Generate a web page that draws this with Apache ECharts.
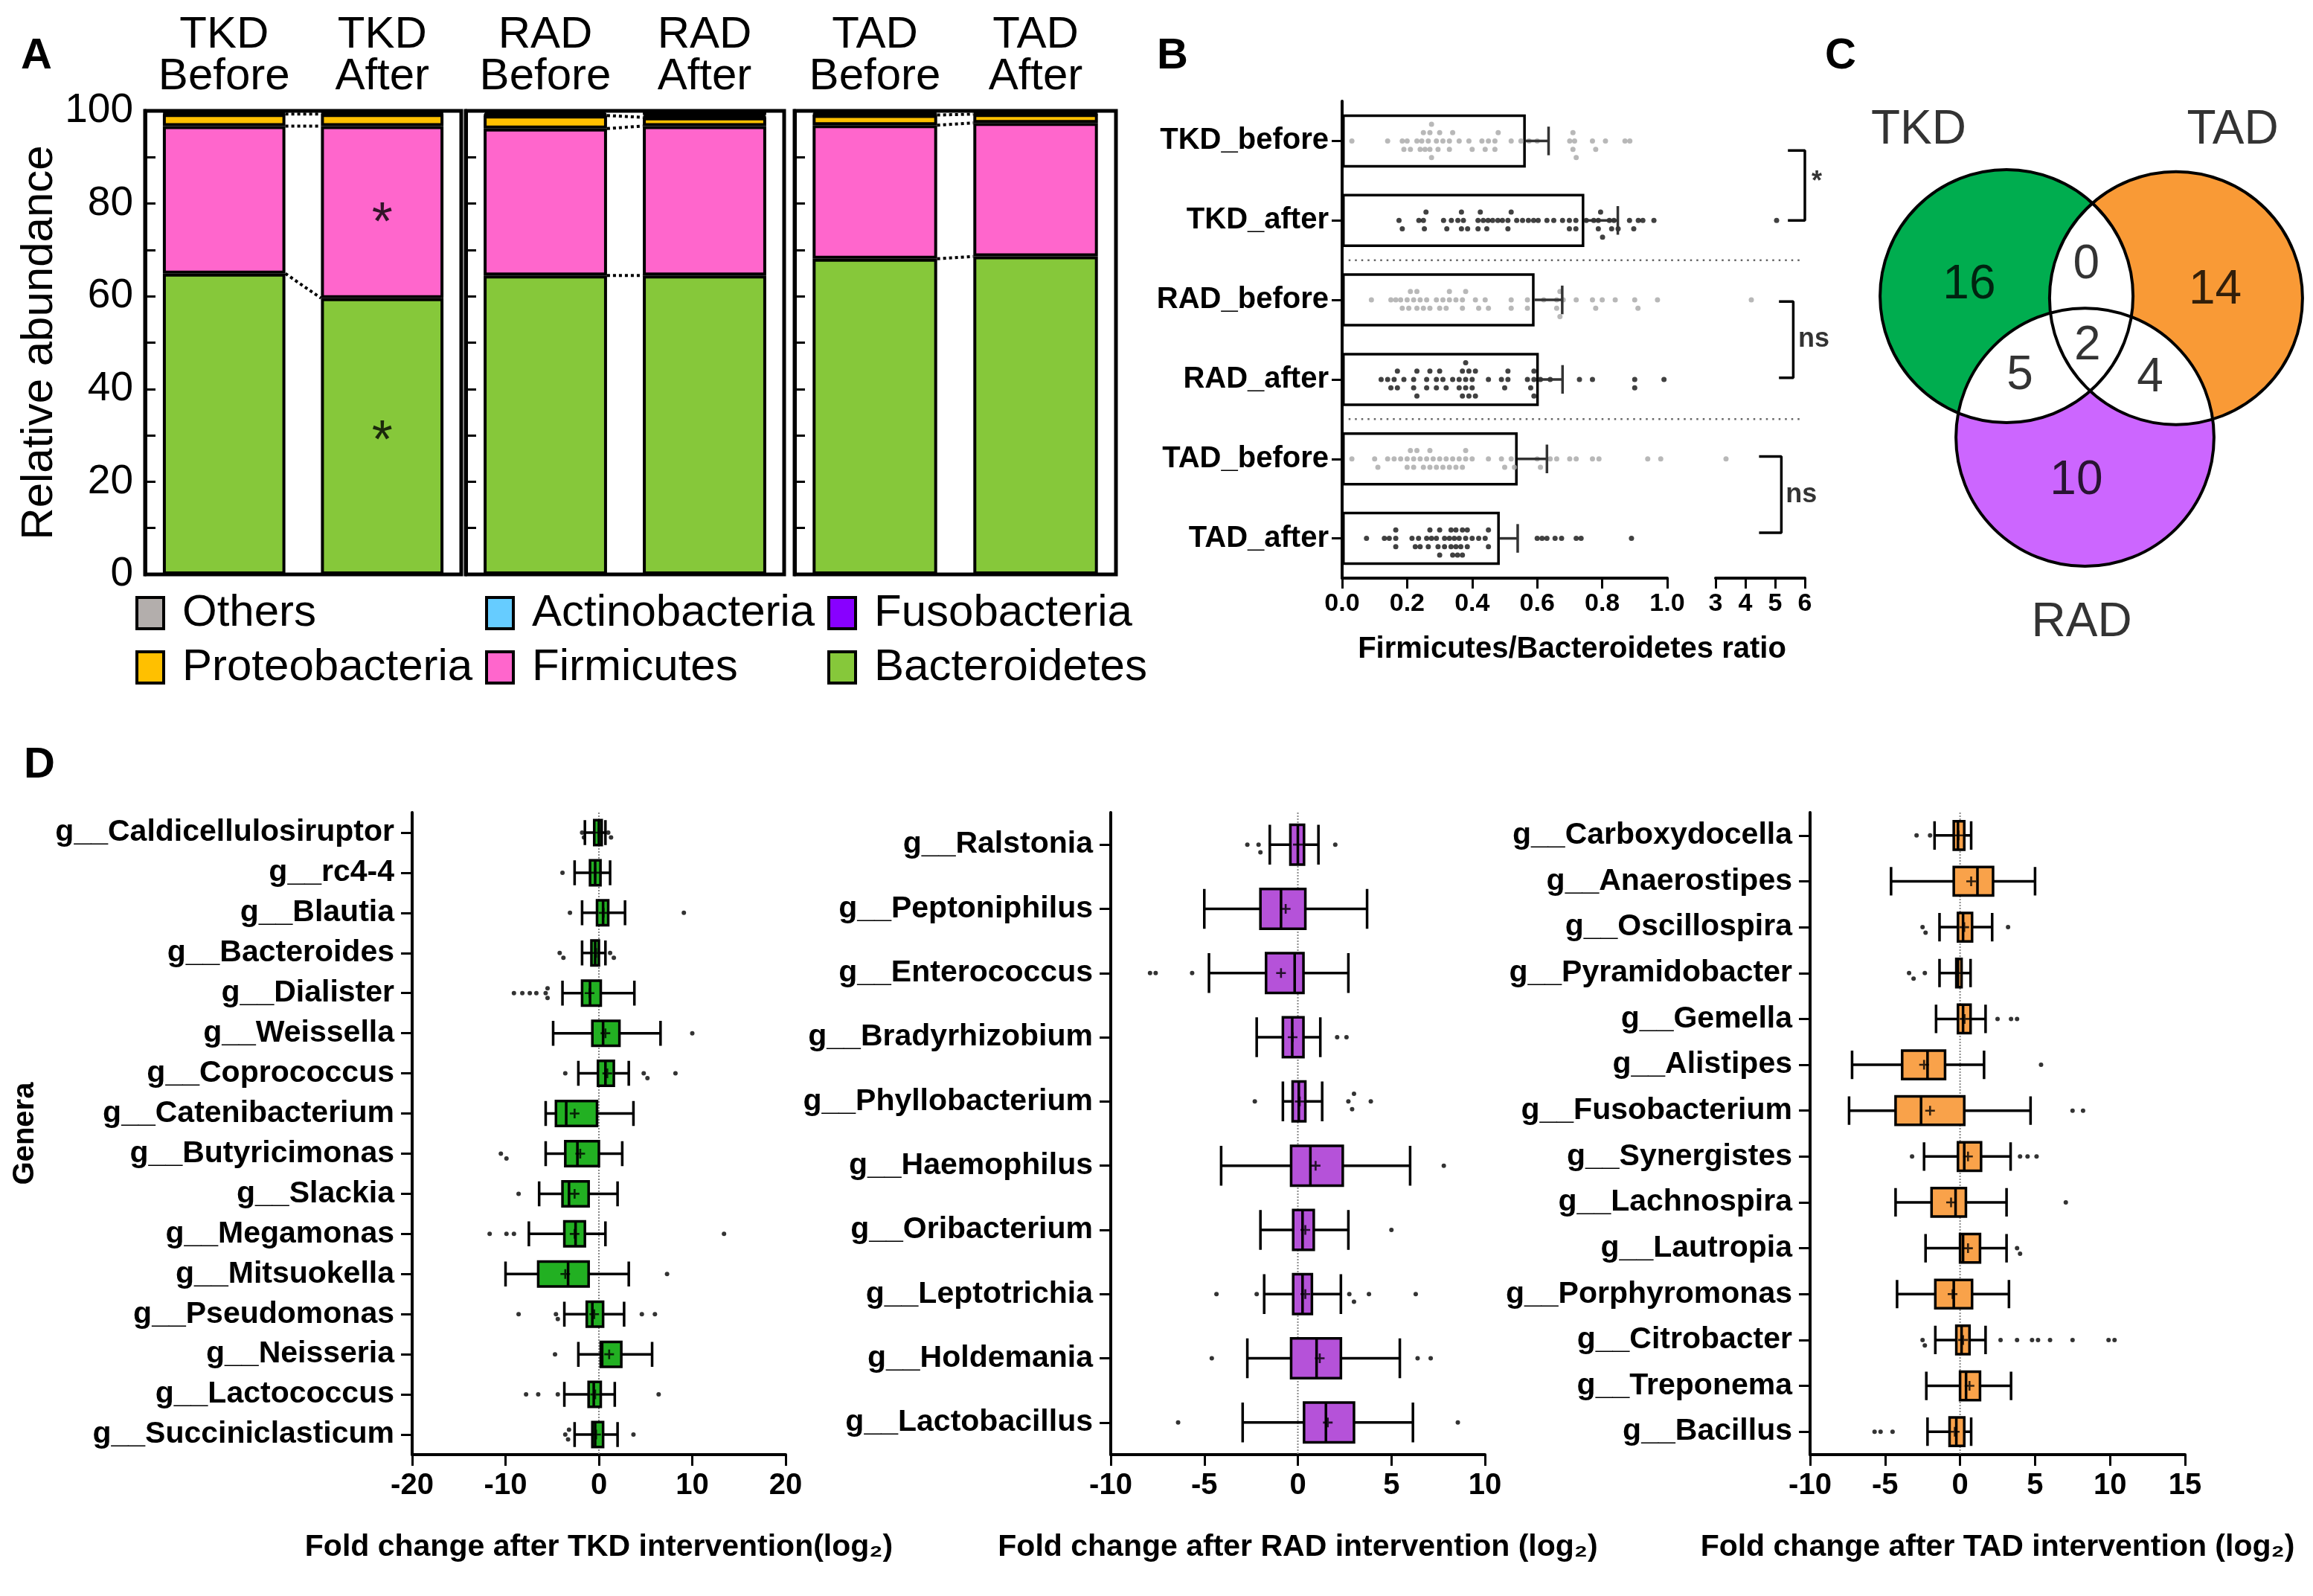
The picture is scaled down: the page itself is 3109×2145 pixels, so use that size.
<!DOCTYPE html>
<html><head><meta charset="utf-8">
<script src="https://cdn.jsdelivr.net/npm/echarts@6/dist/echarts.min.js"></script>
<style>html,body{margin:0;padding:0;background:#fff}#c{width:3109px;height:2145px}</style>
</head><body><div id="c"></div>
<script>
// ================= DATA =================
// Panel A: relative abundance (%)
const groupsA = ['TKD','RAD','TAD'];
const stagesA = ['Before','After'];
const phyla = ['Bacteroidetes','Firmicutes','Proteobacteria','Fusobacteria','Actinobacteria','Others'];
const bacteroidetes  = [[64.9,59.6],[64.5,64.5],[68.1,68.6]];
const firmicutes     = [[31.8,37.1],[31.7,32.2],[28.8,28.8]];
const proteobacteria = [[2.6,2.6],[2.8,1.9],[2.2,1.9]];
const fusobacteria   = [[0.1,0.1],[0.1,0.1],[0.1,0.1]];
const actinobacteria = [[0.3,0.3],[0.3,0.4],[0.3,0.3]];
const asterisksA = [['After',78],['After',31]];
const legendCols = [['Others','Proteobacteria'],['Actinobacteria','Firmicutes'],['Fusobacteria','Bacteroidetes']];

// Panel B: Firmicutes/Bacteroidetes ratio
const catsB = ['TKD_before','TKD_after','RAD_before','RAD_after','TAD_before','TAD_after'];
const meanB = [0.565,0.745,0.592,0.605,0.54,0.485];
const semTopB = [0.635,0.848,0.677,0.678,0.63,0.54];
const ptsTKDbefore = [0.03,0.14,0.185,0.19,0.2,0.21,0.23,0.24,0.245,0.25,0.255,0.265,0.27,0.27,0.275,0.275,0.29,0.295,0.3,0.31,0.33,0.33,0.34,0.36,0.39,0.4,0.43,0.44,0.45,0.47,0.47,0.48,0.52,0.55,0.575,0.6,0.7,0.71,0.71,0.715,0.72,0.77,0.78,0.81,0.87,0.885];
const ptsTKDafter = [0.175,0.185,0.236,0.25,0.253,0.258,0.312,0.322,0.336,0.356,0.367,0.367,0.373,0.386,0.418,0.418,0.425,0.434,0.445,0.449,0.463,0.479,0.493,0.51,0.51,0.52,0.537,0.555,0.573,0.589,0.603,0.63,0.651,0.678,0.699,0.699,0.719,0.719,0.751,0.774,0.788,0.788,0.795,0.801,0.822,0.829,0.836,0.849,0.884,0.897,0.911,0.925,0.959,5.05];
const ptsRADbefore = [0.09,0.15,0.165,0.18,0.185,0.2,0.205,0.21,0.22,0.23,0.23,0.24,0.25,0.26,0.27,0.29,0.3,0.31,0.32,0.33,0.33,0.35,0.37,0.37,0.38,0.41,0.42,0.44,0.45,0.52,0.52,0.57,0.57,0.62,0.66,0.66,0.67,0.67,0.68,0.72,0.77,0.78,0.8,0.84,0.9,0.91,0.97,4.2];
const ptsRADafter = [0.12,0.14,0.15,0.16,0.17,0.17,0.19,0.22,0.22,0.23,0.23,0.26,0.26,0.27,0.29,0.29,0.3,0.31,0.32,0.34,0.36,0.36,0.37,0.37,0.38,0.38,0.38,0.39,0.39,0.4,0.4,0.41,0.41,0.45,0.49,0.5,0.51,0.51,0.57,0.58,0.59,0.59,0.59,0.61,0.64,0.73,0.77,0.9,0.9,0.99];
const ptsTADbefore = [0.03,0.1,0.11,0.14,0.16,0.18,0.2,0.2,0.21,0.22,0.22,0.23,0.24,0.25,0.26,0.27,0.27,0.28,0.29,0.3,0.31,0.32,0.33,0.34,0.35,0.36,0.37,0.38,0.38,0.4,0.45,0.49,0.5,0.52,0.53,0.6,0.61,0.64,0.66,0.7,0.72,0.77,0.79,0.94,0.98,3.35];
const ptsTADafter = [0.075,0.13,0.145,0.165,0.165,0.165,0.215,0.225,0.235,0.24,0.26,0.265,0.27,0.275,0.29,0.295,0.3,0.3,0.315,0.315,0.33,0.335,0.335,0.34,0.345,0.35,0.35,0.355,0.36,0.365,0.37,0.37,0.38,0.385,0.385,0.4,0.42,0.44,0.45,0.45,0.6,0.615,0.63,0.655,0.675,0.72,0.735,0.89];
const ptsB = [ptsTKDbefore,ptsTKDafter,ptsRADbefore,ptsRADafter,ptsTADbefore,ptsTADafter];
const sigLabels = ['*','ns','ns'];

// Panel C: Venn counts
const vennSets = ['TKD','TAD','RAD'];
const vennRegions = ['TKD','TKD&TAD','TAD','TKD&RAD','TKD&TAD&RAD','TAD&RAD','RAD'];
const vennCounts = [16,0,14,5,2,4,10];

// Panel D: box plots [min, Q1, median, Q3, max], means, outliers
const tkdGenera = ['g__Caldicellulosiruptor','g__rc4-4','g__Blautia','g__Bacteroides','g__Dialister','g__Weissella','g__Coprococcus','g__Catenibacterium','g__Butyricimonas','g__Slackia','g__Megamonas','g__Mitsuokella','g__Pseudomonas','g__Neisseria','g__Lactococcus','g__Succiniclasticum'];
const tkdBox = [[-1.5,-0.5,0,0.3,0.7],[-2.6,-0.95,-0.4,0.17,1.2],[-1.8,-0.2,0.45,1.0,2.8],[-1.8,-0.8,-0.4,0,0.7],[-3.9,-1.8,-0.95,0.2,3.8],[-4.9,-0.7,0.45,2.2,6.6],[-2.2,-0.1,0.7,1.6,3.2],[-5.7,-4.6,-3.5,-0.2,3.7],[-5.7,-3.6,-2.3,0,2.5],[-6.4,-3.9,-3.2,-1.1,2.0],[-7.5,-3.7,-2.5,-1.5,0.7],[-10,-6.5,-3.3,-1.1,3.2],[-3.7,-1.3,-0.7,0.45,2.7],[-2.2,0.2,0.35,2.4,5.7],[-3.7,-1.1,-0.55,0.2,1.7],[-2.6,-0.7,-0.4,0.45,2.0]];
const tkdMean = [0,-0.4,0.5,-0.3,-1.0,0.7,0.9,-2.6,-2.0,-2.6,-2.6,-3.6,-0.5,1.1,-0.4,-0.3];
const tkdOut = [[-1.8,-1.6,1.0,1.3],[-3.9],[-3.1,9.1],[-4.2,-3.8,1.2,1.6],[-9.1,-8.2,-7.4,-6.7,-5.7,-5.5,-5.5],[10.0],[-3.6,4.8,5.2,8.2],[],[-10.5,-9.9],[-8.6],[-11.7,-9.9,-9.1,13.4],[7.3],[-8.6,-4.6,-4.4,4.6,6.0],[-4.7],[-7.8,-6.5,-4.4,6.4],[-3.6,-3.3,-3.2,3.7]];

const radGenera = ['g__Ralstonia','g__Peptoniphilus','g__Enterococcus','g__Bradyrhizobium','g__Phyllobacterium','g__Haemophilus','g__Oribacterium','g__Leptotrichia','g__Holdemania','g__Lactobacillus'];
const radBox = [[-1.5,-0.4,0,0.33,1.1],[-5.0,-2.0,-0.9,0.4,3.7],[-4.75,-1.7,-0.17,0.3,2.7],[-2.2,-0.8,-0.3,0.3,1.2],[-0.8,-0.28,0.05,0.4,1.3],[-4.1,-0.36,0.67,2.4,6.0],[-2.0,-0.25,0.25,0.85,2.7],[-1.8,-0.25,0.25,0.75,2.3],[-2.7,-0.36,1.0,2.3,5.45],[-2.95,0.33,1.5,3.0,6.15]];
const radMean = [0,-0.65,-0.9,-0.28,0.1,0.95,0.4,0.4,1.17,1.6];
const radOut = [[-2.7,-2.1,-2.0,2.0],[],[-7.9,-7.6,-5.65],[2.1,2.6],[-2.3,2.7,2.9,3.0,3.9],[7.8],[5.0],[-4.35,-2.2,2.75,3.0,3.8,6.3],[-4.6,6.4,7.1],[-6.4,8.55]];

const tadGenera = ['g__Carboxydocella','g__Anaerostipes','g__Oscillospira','g__Pyramidobacter','g__Gemella','g__Alistipes','g__Fusobacterium','g__Synergistes','g__Lachnospira','g__Lautropia','g__Porphyromonas','g__Citrobacter','g__Treponema','g__Bacillus'];
const tadBox = [[-1.7,-0.42,-0.14,0.28,0.74],[-4.6,-0.42,1.16,2.2,5.0],[-1.37,-0.14,0.2,0.8,2.14],[-1.37,-0.25,-0.14,0.1,0.7],[-1.6,-0.14,0.2,0.7,1.7],[-7.2,-3.86,-2.17,-1.0,1.6],[-7.4,-4.3,-2.6,0.28,4.7],[-2.4,-0.14,0.28,1.4,3.37],[-4.3,-1.9,-0.3,0.39,3.1],[-2.3,0,0.2,1.33,3.1],[-4.2,-1.65,-0.42,0.8,3.26],[-1.65,-0.25,0.1,0.63,1.7],[-2.25,0,0.4,1.33,3.4],[-2.17,-0.7,-0.25,0.28,0.74]];
const tadMean = [-0.1,0.74,0.28,-0.14,0.3,-2.4,-2.0,0.53,-0.6,0.53,-0.5,0.2,0.63,-0.35];
const tadOut = [[-2.9,-2.0],[],[-2.5,-2.3,3.2],[-3.4,-3.1,-2.35],[2.5,3.4,3.8],[5.4],[7.5,8.2],[-3.2,4.0,4.5,5.1],[7.05],[3.8,4.0],[],[-2.5,-2.35,2.7,3.8,4.8,5.2,6.0,7.5,9.9,10.3],[],[-5.7,-5.3,-4.5]];

const dTitles = ['Fold change after TKD intervention(log\u2082)','Fold change after RAD intervention (log\u2082)','Fold change after TAD intervention (log\u2082)'];

// ================= LAYOUT / STYLE =================
const FONT = "'Liberation Sans', Arial, Helvetica, sans-serif";
const phylaColors = {Bacteroidetes:'#86c83a', Firmicutes:'#ff66cc', Proteobacteria:'#ffc000', Fusobacteria:'#8800ff', Actinobacteria:'#66ccff', Others:'#b3aeac'};
const BAR_FRAC = 0.775;
const gridA = [{left:195,width:425},{left:626,width:428},{left:1068,width:432}];
const legendLeft = [182,652,1112];

const grids=[], xAxes=[], yAxes=[], series=[], legends=[], titles=[];
const addGrid=g=>{grids.push(g);return grids.length-1;};
const addX=a=>{xAxes.push(a);return xAxes.length-1;};
const addY=a=>{yAxes.push(a);return yAxes.length-1;};

// ---------- Panel A ----------
const phylumData = {Bacteroidetes:bacteroidetes, Firmicutes:firmicutes, Proteobacteria:proteobacteria, Fusobacteria:fusobacteria, Actinobacteria:actinobacteria};
function phylumVals(p, g){
  if (p !== 'Others') return phylumData[p][g];
  return [0,1].map(s => +(100 - phyla.slice(0,5).reduce((a,q)=>a+phylumData[q][g][s],0)).toFixed(2));
}
function cumTop(g, s, k){ let t=0; for(let i=0;i<k;i++) t+=phylumVals(phyla[i],g)[s]; return t; }

groupsA.forEach((grp,g)=>{
  const gi = addGrid({left:gridA[g].left, top:149, width:gridA[g].width, height:623, show:true, borderColor:'#000', borderWidth:5, backgroundColor:'rgba(0,0,0,0)'});
  const xc = addX({type:'category', gridIndex:gi, data:stagesA.map(s=>grp+'\n'+s), position:'top',
    axisLine:{show:false}, axisTick:{show:false},
    axisLabel:{fontSize:60, lineHeight:56, color:'#000', margin:18, interval:0}});
  const xv = addX({type:'value', gridIndex:gi, min:0, max:2, show:false});
  const ya = addY({type:'value', gridIndex:gi, min:0, max:100, interval:10,
    axisLine:{show:true, onZero:false, lineStyle:{color:'#000', width:5}},
    axisTick:{show:true, inside:true, length:14, lineStyle:{color:'#000', width:3}},
    splitLine:{show:false},
    axisLabel:{show:g===0, formatter:v=>(v%20===0?String(v):''), fontSize:55, color:'#000', margin:16},
    name:g===0?'Relative abundance':'', nameLocation:'middle', nameGap:105,
    nameTextStyle:{fontSize:60, color:'#000'}});
  phyla.forEach(p=>{
    series.push({name:p, type:'bar', xAxisIndex:xc, yAxisIndex:ya, stack:'A'+g, data:phylumVals(p,g),
      barWidth:(BAR_FRAC*100)+'%', itemStyle:{color:phylaColors[p], borderColor:'#000', borderWidth:4},
      emphasis:{disabled:true}, silent:true, z:2});
  });
  [1,2,3].forEach(k=>{
    series.push({type:'line', xAxisIndex:xv, yAxisIndex:ya, silent:true, symbol:'none', z:5,
      data:[[0.5+BAR_FRAC/2, cumTop(g,0,k)],[1.5-BAR_FRAC/2, cumTop(g,1,k)]],
      lineStyle:{type:'dotted', width:4, color:'#000'}});
  });
  if (g===0){
    series.push({type:'scatter', xAxisIndex:xc, yAxisIndex:ya, symbolSize:1, silent:true, z:6,
      data:asterisksA.map(a=>[stagesA.indexOf(a[0]), a[1]]),
      itemStyle:{color:'rgba(0,0,0,0)'},
      label:{show:true, position:'inside', formatter:'*', fontSize:72, color:'#000', offset:[0,16]}});
  }
});
legendCols.forEach((col,i)=>{
  legends.push({data:col, orient:'vertical', left:legendLeft[i], top:794, padding:0, itemGap:13,
    itemWidth:36, itemHeight:42, icon:'rect', selectedMode:false,
    itemStyle:{borderColor:'#000', borderWidth:4},
    textStyle:{fontSize:60, lineHeight:60, color:'#000', padding:[0,0,0,20]}});
});

// ---------- Panel B ----------
const gB1 = addGrid({left:1804, top:136, width:437, height:641});
const gB2 = addGrid({left:2306, top:136, width:120, height:641});
const lineB = {show:true, onZero:false, lineStyle:{color:'#000', width:4}};
const tickB = {show:true, length:14, lineStyle:{color:'#000', width:3}};
const xB1 = addX({type:'value', gridIndex:gB1, position:'bottom', min:0, max:1, interval:0.2, axisLine:lineB, axisTick:tickB, splitLine:{show:false},
  axisLabel:{formatter:v=>v.toFixed(1), fontSize:34, fontWeight:'bold', color:'#000', margin:18}});
const xB2 = addX({type:'value', gridIndex:gB2, position:'bottom', min:3, max:6, interval:1, axisLine:lineB, axisTick:tickB, splitLine:{show:false},
  axisLabel:{fontSize:34, fontWeight:'bold', color:'#000', margin:18}});
const yB1c = addY({type:'category', gridIndex:gB1, data:catsB, inverse:true, axisLine:lineB,
  axisTick:{show:true, alignWithLabel:true, length:14, lineStyle:{color:'#000', width:3}},
  axisLabel:{fontSize:40, fontWeight:'bold', color:'#000', margin:18}});
const yB1v = addY({type:'value', gridIndex:gB1, min:0, max:6, inverse:true, show:false});
const yB2v = addY({type:'value', gridIndex:gB2, min:0, max:6, inverse:true, show:false});

series.push({type:'bar', xAxisIndex:xB1, yAxisIndex:yB1c, data:meanB, barWidth:'67%', silent:true, z:2,
  itemStyle:{color:'#fff', borderColor:'#000', borderWidth:3.5}});

function swarm(vals, thr){
  const placed=[], res=[];
  const cands=[0,1,-1,2,-2,3,-3,4,-4,5,-5];
  vals.slice().sort((a,b)=>a-b).forEach(v=>{
    let o=0;
    for (const c of cands){ if(!placed.some(p=>p.o===c && Math.abs(p.v-v)<thr)){o=c;break;} }
    placed.push({v,o}); res.push([v,o]);
  });
  return res;
}
const STEP_B = 0.105;
const ptsLeft=[[],[]], ptsRight=[[],[]];
ptsB.forEach((arr,i)=>{
  const k=i%2;
  swarm(arr.filter(v=>v<=1.05),0.0135).forEach(([v,o])=>ptsLeft[k].push([v,i+0.5+o*STEP_B]));
  swarm(arr.filter(v=>v>1.05),0.05).forEach(([v,o])=>ptsRight[k].push([v,i+0.5+o*STEP_B]));
});
const ptColors=['#a6a6a6','#111'];
[0,1].forEach(k=>{
  series.push({type:'scatter', xAxisIndex:xB1, yAxisIndex:yB1v, data:ptsLeft[k], symbolSize:7, silent:true, z:3, itemStyle:{color:ptColors[k]}});
  series.push({type:'scatter', xAxisIndex:xB2, yAxisIndex:yB2v, data:ptsRight[k], symbolSize:7, silent:true, z:3, clip:false, itemStyle:{color:ptColors[k]}});
});
series.push({type:'custom', xAxisIndex:xB1, yAxisIndex:yB1c, z:4, silent:true,
  data:meanB.map((m,i)=>[m,semTopB[i],i]), encode:{x:[0,1], y:2},
  renderItem:(params,api)=>{
    const p1=api.coord([api.value(0),api.value(2)]), p2=api.coord([api.value(1),api.value(2)]);
    const h=api.size([0,1])[1]*0.18;
    const st={stroke:'#333', lineWidth:3.5};
    return {type:'group', children:[
      {type:'line', shape:{x1:p1[0],y1:p1[1],x2:p2[0],y2:p2[1]}, style:st},
      {type:'line', shape:{x1:p2[0],y1:p2[1]-h,x2:p2[0],y2:p2[1]+h}, style:st}]};
  }});
// dotted group separators spanning both axis segments
series.push({type:'custom', xAxisIndex:xB1, yAxisIndex:yB1v, clip:false, silent:true, z:1,
  data:[[0.02,2,1.42],[0.02,4,1.42]], encode:{x:[0,2], y:1},
  renderItem:(params,api)=>{
    const a=api.coord([api.value(0),api.value(1)]), b=api.coord([api.value(2),api.value(1)]);
    return {type:'line', shape:{x1:a[0],y1:a[1],x2:b[0],y2:b[1]}, style:{stroke:'#666', lineWidth:2.5, lineDash:[2.5,6]}};
  }});
const bracketGeom = [{x0:5.43,x1:6.0,y0:0.62,y1:1.5,lx:6.4,ly:1.02},{x0:5.13,x1:5.61,y0:2.52,y1:3.48,lx:6.3,ly:3.0},{x0:4.46,x1:5.21,y0:4.47,y1:5.43,lx:5.88,ly:4.95}];
bracketGeom.forEach((b,i)=>{
  series.push({type:'line', xAxisIndex:xB2, yAxisIndex:yB2v, clip:false, symbol:'none', silent:true, z:4,
    data:[[b.x0,b.y0],[b.x1,b.y0],[b.x1,b.y1],[b.x0,b.y1]], lineStyle:{color:'#000', width:3.5}});
});
series.push({type:'scatter', xAxisIndex:xB2, yAxisIndex:yB2v, clip:false, silent:true, symbolSize:1, z:5,
  data:bracketGeom.map((b,i)=>[b.lx,b.ly,sigLabels[i]]), itemStyle:{color:'rgba(0,0,0,0)'},
  label:{show:true, position:'inside', formatter:p=>p.data[2], fontSize:36, fontWeight:'bold', color:'#000'}});
titles.push({text:'Firmicutes/Bacteroidetes ratio', left:2113, top:853, textAlign:'center', padding:0,
  textStyle:{fontSize:40, fontWeight:'bold', color:'#000', fontFamily:FONT}});

// ---------- Panel C (Venn) ----------
const gC = addGrid({left:2488, top:110, width:612, height:765});
const xC = addX({type:'value', gridIndex:gC, min:-1.9, max:1.7, show:false});
const yC = addY({type:'value', gridIndex:gC, min:-2.5, max:2, show:false});
const vennCircle = {TKD:[-0.67,0.306,1.0], TAD:[0.67,0.29,1.0], RAD:[-0.05,-0.81,1.02]};
const vennColor = {TKD:'#00ad4f', TAD:'#f99a36', RAD:'#cc66ff'};
const vennCountPos = [[-0.965,0.394],[-0.04,0.553],[0.98,0.353],[-0.565,-0.324],[-0.03,-0.088],[0.465,-0.341],[-0.118,-1.153]];
const vennNamePos = {TKD:[-1.365,1.618], TAD:[1.118,1.618], RAD:[-0.076,-2.28]};
function circPx(api, s){ const c=vennCircle[s]; const p=api.coord([c[0],c[1]]); return [p, api.size([c[2],0])[0]]; }
function lensPoints(c1,r1,c2,r2,N){
  const dx=c2[0]-c1[0], dy=c2[1]-c1[1], d=Math.hypot(dx,dy);
  const a=(r1*r1-r2*r2+d*d)/(2*d), th=Math.atan2(dy,dx);
  const a1=Math.acos(a/r1), a2=Math.acos((d-a)/r2), ph=th+Math.PI, pts=[];
  for(let k=0;k<=N;k++){const t=th-a1+2*a1*k/N; pts.push([c1[0]+r1*Math.cos(t), c1[1]+r1*Math.sin(t)]);}
  for(let k=0;k<=N;k++){const t=ph-a2+2*a2*k/N; pts.push([c2[0]+r2*Math.cos(t), c2[1]+r2*Math.sin(t)]);}
  return pts;
}
series.push({type:'custom', xAxisIndex:xC, yAxisIndex:yC, silent:true, clip:false, z:2,
  data:vennSets.map((s,i)=>[vennCircle[s][0],vennCircle[s][1],i]),
  renderItem:(params,api)=>{ const s=vennSets[api.value(2)]; const [p,r]=circPx(api,s);
    return {type:'circle', shape:{cx:p[0],cy:p[1],r:r}, style:{fill:vennColor[s], stroke:null}}; }});
const pairs=[[0,1],[0,2],[1,2]];
series.push({type:'custom', xAxisIndex:xC, yAxisIndex:yC, silent:true, clip:false, z:3,
  data:pairs.map((pr,i)=>[0,0,i]),
  renderItem:(params,api)=>{ const pr=pairs[api.value(2)];
    const [p1,r1]=circPx(api,vennSets[pr[0]]), [p2,r2]=circPx(api,vennSets[pr[1]]);
    return {type:'polygon', shape:{points:lensPoints(p1,r1,p2,r2,80)}, style:{fill:'#fff', stroke:null}}; }});
series.push({type:'custom', xAxisIndex:xC, yAxisIndex:yC, silent:true, clip:false, z:4,
  data:vennSets.map((s,i)=>[vennCircle[s][0],vennCircle[s][1],i]),
  renderItem:(params,api)=>{ const s=vennSets[api.value(2)]; const [p,r]=circPx(api,s);
    return {type:'circle', shape:{cx:p[0],cy:p[1],r:r}, style:{fill:null, stroke:'#000', lineWidth:4}}; }});
series.push({type:'scatter', xAxisIndex:xC, yAxisIndex:yC, silent:true, clip:false, symbolSize:1, z:5,
  itemStyle:{color:'rgba(0,0,0,0)'},
  data:vennCounts.map((c,i)=>[vennCountPos[i][0],vennCountPos[i][1],String(c)])
    .concat(vennSets.map(s=>[vennNamePos[s][0],vennNamePos[s][1],s])),
  label:{show:true, position:'inside', formatter:p=>p.data[2], fontSize:64, color:'#000'}});

// ---------- Panel D ----------
const panelsD = [
  {genera:tkdGenera, box:tkdBox, mean:tkdMean, out:tkdOut},
  {genera:radGenera, box:radBox, mean:radMean, out:radOut},
  {genera:tadGenera, box:tadBox, mean:tadMean, out:tadOut}];
const layoutD = [
  {left:554, width:502, min:-20, max:20, interval:10, color:'#22b022', thr:0.6},
  {left:1493, width:503, min:-10, max:10, interval:5, color:'#b552d9', thr:0.3},
  {left:2433, width:504, min:-10, max:15, interval:5, color:'#f9a24a', thr:0.35}];
const plusPath = 'path://M4,0h2v4h4v2h-4v4h-2v-4h-4v-2h4z';
panelsD.forEach((pd,k)=>{
  const L=layoutD[k], n=pd.genera.length;
  const g = addGrid({left:L.left, top:1092, width:L.width, height:863});
  const x = addX({type:'value', gridIndex:g, position:'bottom', min:L.min, max:L.max, interval:L.interval,
    axisLine:{show:true, onZero:false, lineStyle:{color:'#000', width:4}},
    axisTick:{show:true, length:15, lineStyle:{color:'#000', width:3}}, splitLine:{show:false},
    axisLabel:{fontSize:40, fontWeight:'bold', color:'#000', margin:22},
    name:dTitles[k], nameLocation:'middle', nameGap:104, nameTextStyle:{fontSize:41, fontWeight:'bold', color:'#000'}});
  const y = addY({type:'category', gridIndex:g, data:pd.genera, inverse:true,
    axisLine:{show:true, onZero:false, lineStyle:{color:'#000', width:4}},
    axisTick:{show:true, alignWithLabel:true, length:15, lineStyle:{color:'#000', width:3}},
    axisLabel:{fontSize:41, fontWeight:'bold', color:'#000', margin:24, interval:0},
    name:k===0?'Genera':'', nameLocation:'middle', nameGap:500, nameRotate:90,
    nameTextStyle:{fontSize:40, fontWeight:'bold', color:'#000'}});
  const yv = addY({type:'value', gridIndex:g, min:-0.5, max:n-0.5, inverse:true, show:false});
  series.push({type:'line', xAxisIndex:x, yAxisIndex:yv, data:[[0,-0.5],[0,n-0.5]], symbol:'none', silent:true, z:1,
    lineStyle:{type:'dotted', color:'#888', width:2}});
  series.push({type:'boxplot', xAxisIndex:x, yAxisIndex:y, data:pd.box, boxWidth:['62%','62%'], silent:true, z:3,
    itemStyle:{color:L.color, borderColor:'#000', borderWidth:3.5}});
  const outPts=[];
  pd.out.forEach((arr,i)=>swarm(arr,L.thr).forEach(([v,o])=>outPts.push([v,i+o*0.12])));
  series.push({type:'scatter', xAxisIndex:x, yAxisIndex:yv, data:outPts, symbolSize:6, silent:true, z:4, itemStyle:{color:'#000'}});
  series.push({type:'scatter', xAxisIndex:x, yAxisIndex:yv, data:pd.mean.map((m,i)=>[m,i]), symbol:plusPath, symbolSize:13, silent:true, z:5, itemStyle:{color:'#000'}});
});

// ---------- Panel letters ----------
[['A',28,47],['B',1555,47],['C',2453,47],['D',32,1000]].forEach(([t,l,tp])=>{
  titles.push({text:t, left:l, top:tp, padding:0, textStyle:{fontSize:58, lineHeight:58, fontWeight:'bold', color:'#000', fontFamily:FONT}});
});

const chart = echarts.init(document.getElementById('c'), null, {renderer:'canvas'});
chart.setOption({
  animation:false, backgroundColor:'#fff',
  textStyle:{fontFamily:FONT, color:'#000'},
  title:titles, legend:legends, grid:grids, xAxis:xAxes, yAxis:yAxes, series:series
});
</script></body></html>
